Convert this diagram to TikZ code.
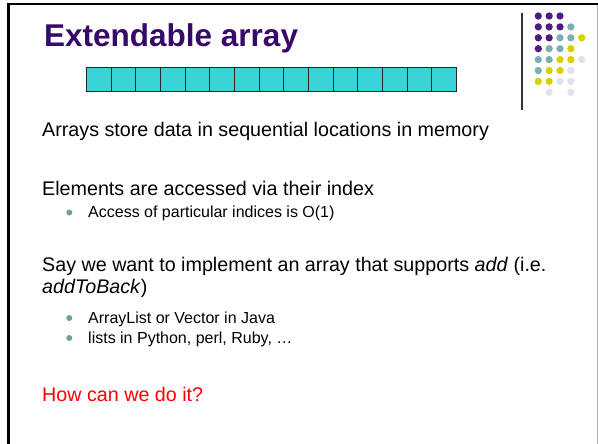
\documentclass[tikz,border=0pt]{standalone}
\usepackage{fontspec}
\setmainfont{Liberation Sans}
\definecolor{titlepurple}{RGB}{55,10,105}
\definecolor{cellcyan}{RGB}{59,212,214}
\definecolor{bulletteal}{RGB}{110,160,160}
\definecolor{dotP}{RGB}{76,28,128}
\definecolor{dotT}{RGB}{122,176,176}
\definecolor{dotY}{RGB}{217,208,0}
\definecolor{dotL}{RGB}{225,223,240}
\definecolor{alertred}{RGB}{255,0,0}
\begin{document}
\begin{tikzpicture}[x=1pt,y=-1pt,
  txt/.style={anchor=base west,inner sep=0pt,font=\fontsize{19.7}{23}\selectfont},
  subtxt/.style={anchor=base west,inner sep=0pt,font=\fontsize{16}{19}\selectfont},
  bul/.style={circle,fill=bulletteal,inner sep=0pt,minimum size=6pt},
  cell/.style={draw=black!85,line width=0.9pt,fill=cellcyan,inner sep=0pt,
    minimum width=24.67pt,minimum height=24pt,anchor=north west},
  dot/.style={circle,inner sep=0pt,minimum size=7.3pt}]
\useasboundingbox (0,0) rectangle (598,444);
% slide frame
\draw[gray!60,line width=1pt] (597,4) -- (597,444);
\draw[black,line width=2.4pt] (8.5,444) -- (8.5,4.2) -- (598,4.2);
% title
\node[anchor=base west,inner sep=0pt,text=titlepurple,
  font=\fontsize{31.5}{36}\selectfont\bfseries] (title) at (44,47) {Extendable array};
% array of cells
\foreach \i in {0,...,14}
  \node[cell] (c\i) at ({86+24.67*\i},67) {};
% decoration: separator and dot grid (N = no dot)
\draw[black!80,line width=1.1pt] (522,13) -- (522,110);
\foreach \r/\row in {0/{P,P,P,N,N},1/{P,P,P,T,N},2/{P,P,T,T,Y},3/{P,T,T,Y,N},
                     4/{T,T,Y,Y,L},5/{T,Y,Y,L,N},6/{Y,Y,L,L,N},7/{N,L,N,L,N}}{
  \foreach \c [count=\k from 0] in \row {
    \if\c N\else
      \node[dot,fill=dot\c] (d\r\k) at ({538.3+10.85*\k},{16+10.9*\r}) {};
    \fi
  }
}
% body text
\node[txt] (l1) at (42,137) {Arrays store data in sequential locations in memory};
\node[txt] (l2) at (42,195) {Elements are accessed via their index};
\node[bul] (b1) at (69.3,212.5) {};
\node[subtxt] (s1) at (88,217.5) {Access of particular indices is O(1)};
\node[txt] (l3) at (42,271) {Say we want to implement an array that supports \textit{add} (i.e.};
\node[txt] (l4) at (42,293) {\textit{addToBack})};
\node[bul] (b2) at (69.3,318) {};
\node[subtxt] (s2) at (88,323.5) {ArrayList or Vector in Java};
\node[bul] (b3) at (69.3,338) {};
\node[subtxt] (s3) at (88,343.5) {lists in Python, perl, Ruby, …};
\node[txt,text=alertred] (q) at (42,401) {How can we do it?};
\end{tikzpicture}
\end{document}
